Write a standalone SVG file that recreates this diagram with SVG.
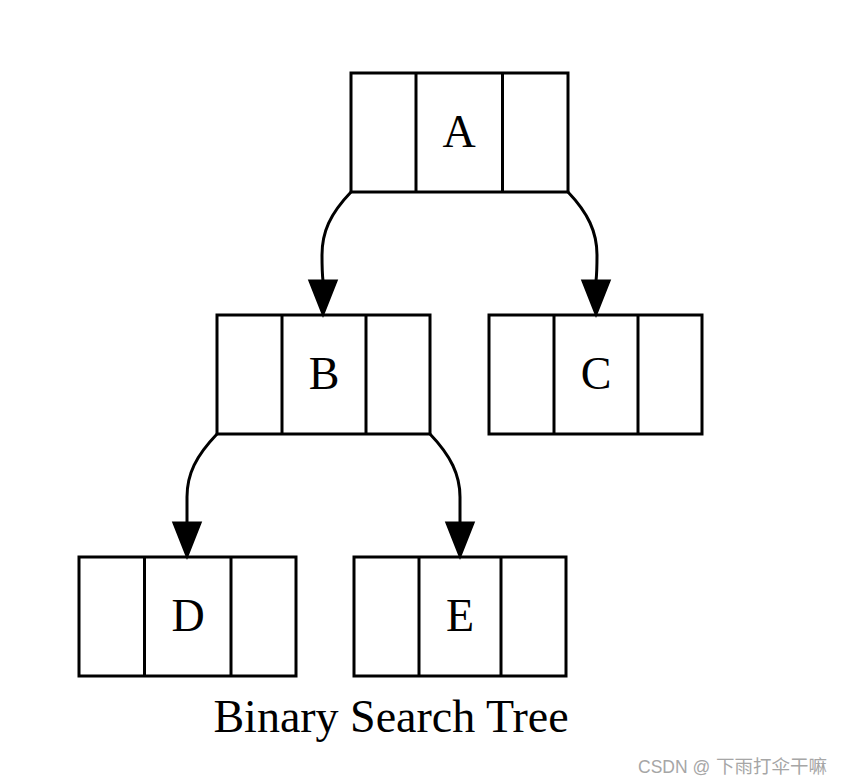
<svg xmlns="http://www.w3.org/2000/svg" width="845" height="784" viewBox="0 0 845 784">
<style>
.box{fill:none;stroke:#000;stroke-width:3}
.lbl{font-family:"Liberation Serif","Times New Roman",serif;font-size:46px;fill:#000;text-anchor:middle}
.edge{fill:none;stroke:#000;stroke-width:3}
.head{fill:#000;stroke:#000;stroke-width:3;stroke-linejoin:miter}
.wm{font-family:"Liberation Sans","Noto Sans CJK SC",sans-serif;font-size:17.5px;fill:#a6a6a6}
.cjk{font-size:18.5px}
</style>
<rect width="845" height="784" fill="#fff"/>
<g id="connectors">
<path class="edge" d="M351,192 C330,214 322,232 322,255 C322,264 322,272 323,281"/>
<polygon class="head" points="310,281 336,281 323,314"/>
<path class="edge" d="M568,192 C588,213 597,232 597,255 C597,264 597,272 596,281"/>
<polygon class="head" points="583,281 609,281 596,314"/>
<path class="edge" d="M217,434 C196,456 187,474 187,497 C187,506 187,514 187,523"/>
<polygon class="head" points="174,523 200,523 187,556"/>
<path class="edge" d="M430,434 C451,456 460,475 460,497 C460,506 460,514 460,523"/>
<polygon class="head" points="447,523 473,523 460,556"/>
</g>
<g id="node-A">
<rect class="box" x="351" y="73" width="217" height="119"/>
<line class="box" x1="416" y1="73" x2="416" y2="192"/>
<line class="box" x1="502.5" y1="73" x2="502.5" y2="192"/>
<text class="lbl" x="459" y="147">A</text>
</g>
<g id="node-B">
<rect class="box" x="217" y="315" width="213" height="119"/>
<line class="box" x1="282" y1="315" x2="282" y2="434"/>
<line class="box" x1="366" y1="315" x2="366" y2="434"/>
<text class="lbl" x="324" y="389">B</text>
</g>
<g id="node-C">
<rect class="box" x="489" y="315" width="213" height="119"/>
<line class="box" x1="554" y1="315" x2="554" y2="434"/>
<line class="box" x1="638" y1="315" x2="638" y2="434"/>
<text class="lbl" x="596" y="389">C</text>
</g>
<g id="node-D">
<rect class="box" x="79" y="557" width="217" height="119"/>
<line class="box" x1="144.5" y1="557" x2="144.5" y2="676"/>
<line class="box" x1="231" y1="557" x2="231" y2="676"/>
<text class="lbl" x="188" y="631">D</text>
</g>
<g id="node-E">
<rect class="box" x="354" y="557" width="212" height="119"/>
<line class="box" x1="419" y1="557" x2="419" y2="676"/>
<line class="box" x1="501" y1="557" x2="501" y2="676"/>
<text class="lbl" x="460" y="631">E</text>
</g>
<text class="lbl" x="391" y="732">Binary Search Tree</text>
<text class="wm" x="638" y="773">CSDN @<tspan x="716" class="cjk">下雨打伞干嘛</tspan></text>
</svg>
